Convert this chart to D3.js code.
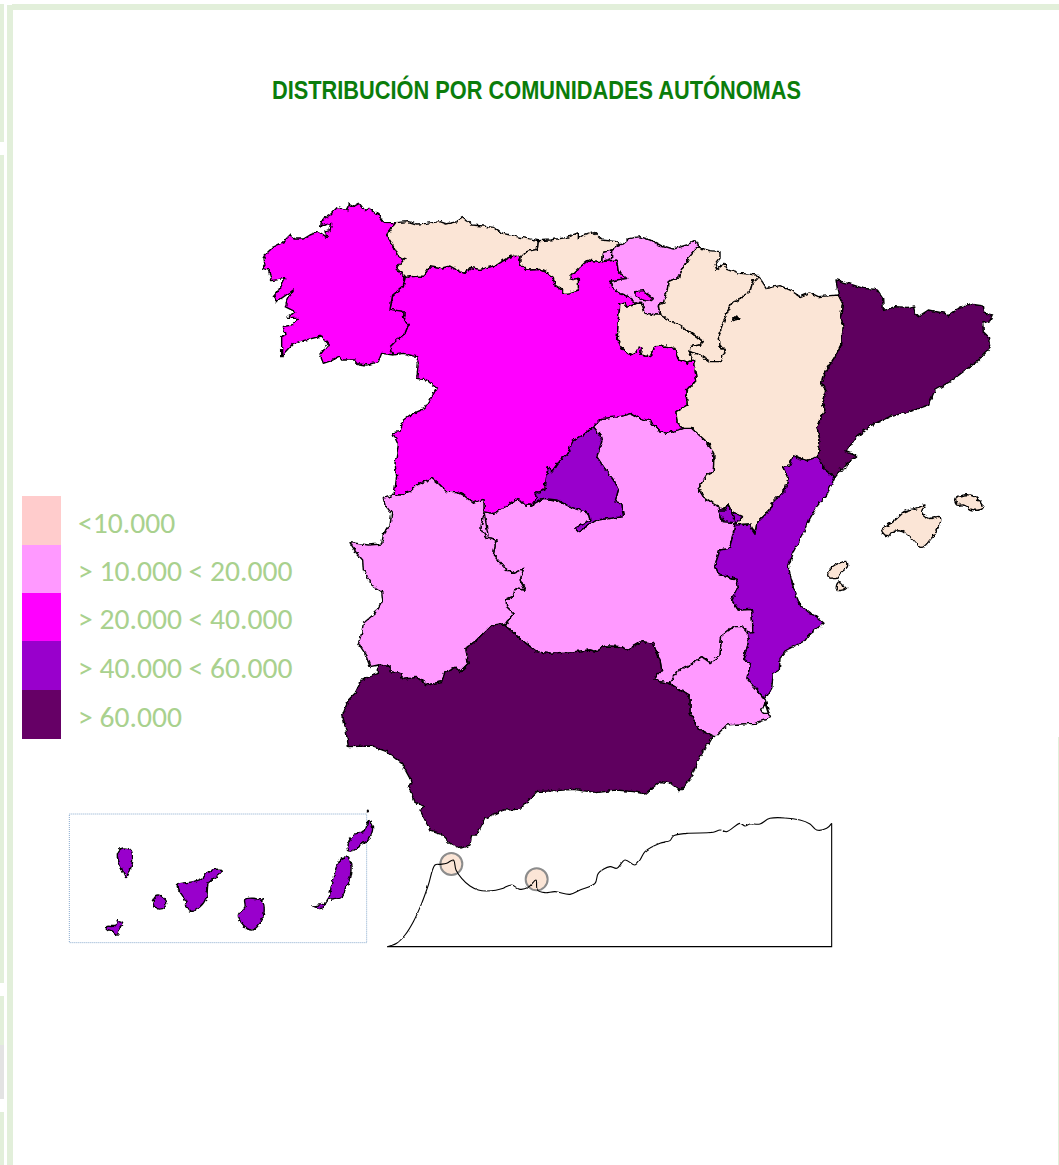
<!DOCTYPE html>
<html lang="es"><head><meta charset="utf-8">
<script src="https://cdn.jsdelivr.net/npm/d3@7"></script>
<style>html,body{margin:0;padding:0;background:#fff}svg{display:block}</style>
</head><body><div id="chart"></div>
<script>
// Map geometry in map units (3 units = 1 px)
const coastGalicia=[[1187,668],[1150,667],[1135,645],[1110,625],[1095,632],[1078,610],[1060,620],[1045,612],[1040,632],[1012,622],[990,645],[965,660],[962,678],[995,670],[990,692],[975,695],[982,712],[955,695],[930,705],[910,717],[885,717],[870,705],[850,725],[820,740],[800,760],[792,775],[795,795],[788,805],[805,810],[815,842],[855,835],[840,865],[820,890],[830,905],[880,870],[865,895],[855,920],[885,935],[860,955],[895,955],[875,975],[850,980],[855,1005],[845,1010],[845,1067],[880,1030],[910,1022],[965,1008],[985,1032],[960,1065],[970,1090],[995,1082],[1018,1070],[1025,1080],[1065,1080],[1075,1092],[1100,1095],[1135,1085],[1145,1060],[1180,1065]];
const galCyl=[[1180,1065],[1170,1040],[1190,1020],[1215,1000],[1225,975],[1210,955],[1212,935],[1170,928],[1178,885],[1210,860],[1215,832]];
const galAst=[[1215,832],[1190,805],[1215,775],[1195,770],[1175,730],[1160,705],[1187,668]];
const coastAst=[[1187,668],[1225,665],[1250,672],[1280,670],[1320,665],[1340,672],[1370,665],[1390,652],[1415,675],[1450,678],[1480,682],[1500,698],[1550,710],[1615,722]];
const astCant=[[1615,722],[1612,748],[1580,755],[1560,775]];
const astCyl=[[1215,832],[1230,830],[1270,828],[1290,800],[1320,805],[1350,798],[1380,815],[1395,820],[1410,802],[1440,808],[1490,795],[1520,775],[1545,765],[1560,775]];
const coastCant=[[1615,722],[1650,720],[1700,712],[1735,698],[1735,715],[1750,705],[1780,695],[1805,720],[1850,725],[1855,735]];
const cantVas=[[1855,735],[1838,750],[1808,758],[1805,785]];
const cantCyl=[[1805,785],[1765,780],[1735,805],[1710,830],[1710,840],[1735,835],[1735,870],[1710,878],[1695,880],[1680,865],[1665,855],[1660,832],[1635,815],[1620,808],[1580,810],[1560,790],[1560,775]];
const vasCyl=[[1805,785],[1850,780],[1855,815],[1880,835],[1850,840],[1830,845],[1835,860],[1855,878],[1890,892],[1910,910]];
const vasCoast=[[1855,735],[1870,732],[1890,715],[1920,710],[1950,720],[1980,735],[2020,747],[2060,735],[2085,722],[2095,740]];
const vasNav=[[2095,740],[2065,775],[2045,810],[2040,830],[2005,845],[2000,880],[1990,910],[1975,915],[1980,945]];
const rioTopW=[[1860,910],[1875,910],[1880,922],[1900,915],[1910,910]];
const rioTopE=[[1910,910],[1925,910],[1935,940],[1970,945],[1980,945]];
const rioNav=[[1980,945],[2035,975],[2070,995],[2110,1025],[2100,1035],[2070,1040],[2068,1055]];
const rioAra=[[2068,1055],[2080,1080]];
const rioCyl=[[2080,1080],[2060,1088],[2035,1080],[2025,1045],[1995,1038],[1965,1040],[1950,1070],[1920,1065],[1925,1045],[1915,1040],[1910,1055],[1890,1065],[1865,1045],[1852,1015],[1855,960],[1860,910]];
const navTop=[[2095,740],[2105,745],[2130,752],[2160,755],[2160,775],[2145,795],[2150,808],[2175,790],[2180,805],[2220,820],[2270,825],[2280,835]];
const navAra=[[2280,835],[2260,840],[2250,875],[2220,895],[2195,910],[2180,940],[2165,980],[2158,1010],[2160,1035],[2175,1055],[2160,1085],[2130,1085],[2100,1065],[2068,1055]];
const araTop=[[2280,835],[2300,865],[2340,857],[2370,870],[2400,890],[2430,878],[2455,890],[2515,885]];
const araCat=[[2515,885],[2528,910],[2522,950],[2530,980],[2525,1030],[2505,1070],[2470,1125],[2465,1150],[2480,1175],[2468,1210],[2475,1230],[2450,1280],[2460,1320],[2455,1370]];
const araVal=[[2455,1370],[2420,1382],[2380,1368],[2370,1395],[2348,1400],[2365,1435],[2355,1470],[2320,1505],[2310,1530],[2270,1570],[2265,1600],[2255,1585],[2250,1572],[2205,1575]];
const araAde=[[2207,1568],[2228,1550],[2195,1535],[2185,1515]];
const ademW=[[2185,1515],[2175,1530],[2155,1530],[2170,1565],[2207,1568]];
const araClm=[[2185,1515],[2170,1525],[2140,1510],[2110,1490],[2095,1465],[2120,1425],[2140,1415],[2142,1365],[2125,1330],[2075,1285],[2048,1285]];
const araCyl=[[2048,1285],[2032,1270],[2028,1235],[2062,1215],[2058,1175],[2090,1140],[2080,1080]];
const cylClmE=[[2048,1285],[2000,1300],[1980,1295],[1950,1262],[1920,1255],[1895,1240],[1860,1250],[1805,1255],[1780,1280]];
const cylMad=[[1780,1280],[1750,1305],[1715,1325],[1705,1360],[1685,1375],[1655,1415],[1645,1400],[1640,1430],[1635,1470],[1605,1480],[1610,1495],[1595,1515]];
const cylClmW=[[1595,1515],[1575,1515],[1555,1495],[1525,1515],[1480,1540],[1452,1535]];
const cylExtS=[[1452,1535],[1452,1500],[1450,1498],[1420,1510],[1390,1485],[1370,1475],[1340,1475],[1320,1455],[1295,1435],[1250,1455],[1230,1475],[1205,1485],[1182,1485]];
const cylWest=[[1182,1485],[1190,1430],[1185,1390],[1195,1335],[1178,1298],[1200,1295],[1210,1260],[1230,1245],[1275,1225],[1290,1200],[1310,1165],[1280,1140],[1250,1135],[1255,1090],[1250,1070],[1210,1060],[1180,1065]];
const madE=[[1780,1280],[1800,1305],[1805,1325],[1790,1370],[1810,1400],[1840,1440],[1855,1470],[1845,1505],[1865,1510],[1870,1550]];
const madClm=[[1595,1515],[1630,1495],[1670,1500],[1710,1520],[1765,1540],[1770,1560],[1725,1585],[1735,1595],[1790,1560],[1870,1550]];
const extW=[[1182,1485],[1150,1495],[1155,1515],[1175,1540],[1170,1575],[1150,1605],[1145,1632],[1105,1635],[1085,1632],[1050,1628],[1070,1660],[1088,1680],[1090,1710],[1115,1755],[1145,1775],[1148,1800],[1125,1840],[1090,1870],[1085,1900],[1075,1930],[1095,1960],[1110,2000],[1135,1995]];
const extAnd=[[1135,1995],[1170,2000],[1170,2015],[1200,2020],[1210,2038],[1250,2032],[1282,2055],[1325,2045],[1335,2015],[1365,2002],[1380,2015],[1405,1990],[1398,1945],[1430,1920],[1450,1900],[1475,1875],[1510,1872]];
const extClm=[[1510,1872],[1517,1875],[1540,1840],[1520,1820],[1518,1800],[1540,1790],[1545,1765],[1575,1770],[1560,1740],[1572,1705],[1540,1720],[1515,1705],[1480,1665],[1488,1620],[1460,1615],[1442,1588],[1452,1535]];
const clmAnd=[[2008,2050],[1980,2045],[1965,2035],[1985,2010],[1980,1980],[1960,1930],[1925,1925],[1880,1950],[1865,1940],[1815,1938],[1790,1955],[1770,1950],[1725,1955],[1645,1960],[1610,1955],[1565,1920],[1530,1890],[1510,1872]];
const valClm=[[2205,1575],[2195,1620],[2188,1645],[2160,1650],[2145,1695],[2155,1720],[2210,1738],[2215,1760],[2195,1800],[2215,1830],[2255,1828],[2258,1870],[2258,1895],[2242,1898]];
const murClm=[[2242,1898],[2225,1880],[2205,1880],[2185,1890],[2165,1905],[2160,1970],[2130,1988],[2105,1970],[2070,1995],[2030,2015],[2008,2050]];
const murAnd=[[2008,2050],[2070,2088],[2070,2140],[2095,2185],[2137,2208]];
const murCoast=[[2137,2208],[2145,2210],[2180,2175],[2220,2172],[2265,2170],[2312,2153],[2295,2100]];
const valMur=[[2295,2098],[2265,2065],[2240,2035],[2252,1990],[2230,1975],[2245,1930],[2242,1898]];
const valCoast=[[2295,2098],[2315,2065],[2320,2020],[2338,2010],[2340,1975],[2360,1950],[2415,1922],[2430,1900],[2472,1870],[2450,1850],[2430,1840],[2400,1815],[2382,1770],[2365,1700],[2380,1655],[2415,1590],[2430,1555],[2450,1520],[2480,1485],[2505,1432]];
const valCat=[[2505,1432],[2470,1405],[2455,1370]];
const catCoast=[[2515,885],[2508,840],[2545,850],[2590,865],[2630,868],[2648,895],[2650,932],[2685,920],[2725,922],[2740,918],[2745,940],[2755,950],[2785,930],[2835,940],[2845,948],[2880,922],[2910,912],[2950,918],[2955,940],[2978,945],[2970,962],[2948,970],[2950,995],[2965,1010],[2970,1045],[2930,1085],[2890,1115],[2850,1145],[2805,1170],[2785,1215],[2730,1235],[2670,1250],[2615,1275],[2570,1310],[2538,1355],[2570,1368],[2540,1390],[2505,1432]];
const andCoast=[[1135,1995],[1135,2020],[1110,2030],[1085,2040],[1065,2080],[1045,2100],[1028,2145],[1038,2190],[1045,2240],[1115,2238],[1160,2255],[1205,2290],[1235,2345],[1225,2360],[1245,2405],[1270,2420],[1260,2430],[1290,2490],[1320,2500],[1350,2530],[1380,2545],[1410,2535],[1415,2505],[1430,2505],[1455,2455],[1510,2430],[1560,2428],[1610,2375],[1670,2372],[1720,2368],[1790,2378],[1850,2370],[1900,2375],[1935,2382],[1980,2345],[2010,2348],[2040,2372],[2070,2340],[2095,2280],[2137,2208]];
const mallorca=[[2645,1590],[2680,1565],[2715,1535],[2745,1525],[2775,1515],[2765,1535],[2785,1555],[2820,1550],[2815,1585],[2790,1620],[2765,1642],[2735,1615],[2710,1595],[2680,1595],[2665,1610]];
const menorca=[[2865,1495],[2910,1485],[2935,1500],[2948,1525],[2920,1530],[2890,1515],[2870,1515]];
const ibiza=[[2485,1715],[2505,1695],[2540,1685],[2542,1700],[2520,1720],[2510,1735],[2485,1730]];
const formentera=[[2512,1750],[2520,1745],[2530,1762],[2540,1762],[2535,1768],[2510,1770]];
const laPalma=[[352,2565],[365,2545],[392,2550],[398,2580],[390,2610],[378,2633],[365,2605]];
const elHierro=[[320,2780],[345,2778],[355,2762],[368,2768],[358,2785],[352,2805],[335,2792],[322,2788]];
const laGomera=[[460,2700],[475,2685],[500,2705],[495,2720],[475,2727],[462,2718]];
const tenerife=[[532,2655],[580,2645],[610,2632],[630,2612],[667,2610],[655,2625],[625,2650],[620,2690],[600,2720],[570,2733],[552,2695]];
const granCanaria=[[735,2698],[785,2702],[792,2740],[780,2770],[755,2790],[730,2775],[715,2745],[735,2720]];
const fuerteventura=[[938,2718],[970,2712],[988,2690],[995,2650],[1020,2580],[1042,2572],[1052,2590],[1048,2640],[1035,2670],[1025,2690],[985,2700],[965,2725]];
const lanzarote=[[1042,2550],[1050,2520],[1060,2505],[1095,2490],[1105,2460],[1112,2470],[1118,2485],[1105,2520],[1080,2535],[1060,2552]];
const alegranza=[[1100,2431],[1104,2431],[1104,2435],[1100,2435]];
const villaverde=[[1808,758],[1835,750],[1835,775],[1805,785]];
const trevino=[[1905,875],[1930,872],[1960,895],[1955,905],[1925,900],[1905,888]];
const marMenor=[[2295,2110],[2305,2140],[2290,2140],[2285,2132]];
const ebroBay=[[2518,1408],[2545,1393],[2540,1408],[2522,1412]];
const moncayoDot=[[2195,963],[2210,948],[2218,958],[2205,960]];
const gcDot=[[785,2697],[789,2697],[789,2702],[785,2702]];
const moroccoCoast=[[1162,2840],[1190,2830],[1215,2805],[1240,2765],[1265,2710],[1285,2655],[1305,2595],[1320,2593],[1340,2590],[1360,2580],[1368,2610],[1385,2635],[1410,2658],[1435,2670],[1460,2673],[1510,2665],[1515,2662],[1535,2655],[1560,2668],[1585,2662],[1608,2640],[1612,2670],[1635,2678],[1665,2675],[1710,2683],[1740,2670],[1785,2650],[1795,2620],[1830,2600],[1850,2605],[1875,2580],[1905,2595],[1920,2580],[1935,2555],[1980,2530],[2010,2522],[2020,2508],[2060,2500],[2140,2497],[2160,2490],[2180,2495],[2220,2470],[2235,2478],[2250,2472],[2280,2472],[2310,2455],[2400,2460],[2430,2472],[2450,2490],[2480,2485],[2495,2470]];
const moroccoFrame=[[2495,2470],[2495,2840],[1162,2840]];

const rev=a=>a.slice().reverse();
const title="DISTRIBUCIÓN POR COMUNIDADES AUTÓNOMAS";
const legendLabels=["<10.000","> 10.000 < 20.000","> 20.000 < 40.000","> 40.000 < 60.000","> 60.000"];
const legendColors=["#FFCCCC","#FF99FF","#FF00FF","#9900CC","#660066"];
const mapColors=["#FBE5D6","#FF99FF","#FF00FF","#9900CC","#5F005F"];
const regionNames=["Castilla-La Mancha","Castilla y León","Galicia","Asturias","Cantabria","País Vasco","Villaverde","La Rioja","Navarra","Aragón","Ademuz","Valencia","Cataluña","Madrid","Extremadura","Murcia","Andalucía","Treviño"];
const regionClass=[1,2,2,0,0,1,1,0,0,0,3,3,4,3,1,1,4,2];
const regionRings=[
 [...rev(cylClmW),...madClm,...rev(madE),...rev(cylClmE),...rev(araClm),...ademW,...valClm,...murClm,...clmAnd,...rev(extClm)],
 [...astCyl,...rev(cantCyl),...vasCyl,...rev(rioTopW),...rev(rioCyl),...rev(araCyl),...cylClmE,...cylMad,...cylClmW,...cylExtS,...cylWest,...galCyl],
 [...coastGalicia,...galCyl,...galAst],
 [...coastAst,...astCant,...rev(astCyl),...galAst],
 [...coastCant,...cantVas,...cantCyl,...rev(astCant)],
 [...vasCoast,...vasNav,...rev(rioTopE),...rev(vasCyl),...rev(cantVas)],
 villaverde,
 [...rioTopW,...rioTopE,...rioNav,...rioAra,...rioCyl],
 [...navTop,...navAra,...rev(rioNav),...rev(vasNav)],
 [...araTop,...araCat,...araVal,...araAde,...araClm,...araCyl,...rev(rioAra),...rev(navAra)],
 [...rev(araAde),...ademW],
 [...valCoast,...valCat,...araVal,...valClm,...rev(valMur)],
 [...catCoast,...valCat,...rev(araCat)],
 [...rev(cylMad),...madE,...rev(madClm)],
 [...extW,...extAnd,...extClm,...cylExtS],
 [...murClm,...murAnd,...murCoast,...valMur],
 [...rev(extAnd),...andCoast,...rev(murAnd),...clmAnd],
 trevino
];
const islandNames=["Mallorca","Menorca","Ibiza","Formentera","La Palma","El Hierro","La Gomera","Tenerife","Gran Canaria","Fuerteventura","Lanzarote","Alegranza"];
const islandClass=[0,0,0,0,3,3,3,3,3,3,3,3];
const islandRings=[mallorca,menorca,ibiza,formentera,laPalma,elHierro,laGomera,tenerife,granCanaria,fuerteventura,lanzarote,alegranza];
const holes=[marMenor,ebroBay];
const enclaves=[moncayoDot,gcDot];
const plazaNames=["Ceuta","Melilla"];
const plazaX=[1354,1610];
const plazaY=[2592,2638];
const canaryBox=[[208,2442],[1100,2828]];
// page background bars: [x0,y0,x1,y1] in map units
const frameBars=[[21,15,39,3495],[36,12,3177,30],[0,12,12,426],[0,465,12,2949],[0,2988,12,3135],[0,3135,12,3297],[0,3336,12,3495],[3174,2211,3177,3495]];
const frameColors=["#E2EFDA","#E2EFDA","#E2EFDA","#E2EFDA","#E2EFDA","#E3E3E3","#E2EFDA","#E2EFDA"];
const legendBreaks=[1488,1635,1779,1923,2070,2217];

const W=1059,H=1165;
const x=d3.scaleLinear().domain([0,3177]).range([0,W]);
const y=d3.scaleLinear().domain([0,3495]).range([0,H]);
const path=d3.line().x(d=>x(d[0])).y(d=>y(d[1]));
const smooth=d3.line().x(d=>x(d[0])).y(d=>y(d[1])).curve(d3.curveCatmullRomClosed.alpha(0.5));
const smoothOpen=d3.line().x(d=>x(d[0])).y(d=>y(d[1])).curve(d3.curveCatmullRom.alpha(0.5));
const svg=d3.select("#chart").append("svg").attr("width",W).attr("height",H).attr("viewBox",[0,0,W,H]);

// fine-grained edge roughness, as in the scanned outlines of the reference
const defs=svg.append("defs");
const rough=(id,freq,scale)=>{
  const f=defs.append("filter").attr("id",id).attr("filterUnits","userSpaceOnUse")
    .attr("x",0).attr("y",0).attr("width",W).attr("height",H).attr("color-interpolation-filters","sRGB");
  f.append("feTurbulence").attr("type","fractalNoise").attr("baseFrequency",freq).attr("numOctaves",2).attr("seed",4).attr("result","n");
  f.append("feDisplacementMap").attr("in","SourceGraphic").attr("in2","n").attr("scale",scale).attr("xChannelSelector","R").attr("yChannelSelector","G");
};
rough("roughMap",0.22,4.5);
rough("roughLine",0.2,2.2);

svg.append("g").selectAll("rect").data(frameBars).join("rect")
  .attr("x",d=>x(d[0])).attr("y",d=>y(d[1])).attr("width",d=>x(d[2])-x(d[0])).attr("height",d=>y(d[3])-y(d[1]))
  .attr("fill",(d,i)=>frameColors[i]);

svg.append("text").attr("x",536.5).attr("y",99).attr("text-anchor","middle")
  .attr("font-family","'Liberation Sans Narrow','Liberation Sans',sans-serif").attr("font-weight","bold").attr("font-size",25)
  .attr("textLength",529).attr("lengthAdjust","spacingAndGlyphs")
  .attr("fill","#0B7D0B").text(title);

svg.append("g").selectAll("rect").data(legendLabels).join("rect")
  .attr("x",x(66)).attr("width",x(183)-x(66)).attr("y",(d,i)=>y(legendBreaks[i])).attr("height",(d,i)=>y(legendBreaks[i+1])-y(legendBreaks[i]))
  .attr("fill",(d,i)=>legendColors[i]);
svg.append("g").selectAll("text").data(legendLabels).join("text")
  .attr("x",78).attr("y",(d,i)=>y((legendBreaks[i]+legendBreaks[i+1])/2)+12)
  .attr("font-family","Carlito,Lato,sans-serif").attr("font-size",29.6).attr("fill","#A9D18E").text(d=>d);

svg.append("rect").attr("x",x(canaryBox[0][0])).attr("y",y(canaryBox[0][1]))
  .attr("width",x(canaryBox[1][0])-x(canaryBox[0][0])).attr("height",y(canaryBox[1][1])-y(canaryBox[0][1]))
  .attr("fill","none").attr("stroke","#86A8CC").attr("stroke-width",1).attr("stroke-dasharray","1 1");

const m=svg.append("g").attr("stroke","#000").attr("stroke-width",1.4).attr("stroke-linejoin","round").attr("filter","url(#roughMap)");
m.selectAll("path.r").data(regionRings).join("path").attr("class","r")
  .attr("data-name",(d,i)=>regionNames[i]).attr("d",d=>path(d)+"Z").attr("fill",(d,i)=>mapColors[regionClass[i]]);
m.selectAll("path.i").data(islandRings).join("path").attr("class","i")
  .attr("data-name",(d,i)=>islandNames[i]).attr("d",d=>smooth(d)).attr("fill",(d,i)=>mapColors[islandClass[i]]);
m.selectAll("path.h").data(holes).join("path").attr("class","h").attr("d",d=>path(d)+"Z").attr("fill","#fff");
m.selectAll("path.e").data(enclaves).join("path").attr("class","e").attr("d",d=>path(d)+"Z").attr("fill","#000");

svg.selectAll("circle").data(plazaNames).join("circle")
  .attr("cx",(d,i)=>x(plazaX[i])).attr("cy",(d,i)=>y(plazaY[i])).attr("r",11)
  .attr("fill","#FBE5D6").attr("stroke","#8C8C8C").attr("stroke-width",2);
svg.append("path").attr("d",smoothOpen(moroccoCoast)).attr("fill","none").attr("stroke","#000").attr("stroke-width",1.1).attr("filter","url(#roughLine)");
svg.append("path").attr("d",path(moroccoFrame)).attr("fill","none").attr("stroke","#000").attr("stroke-width",1.1);
</script></body></html>
